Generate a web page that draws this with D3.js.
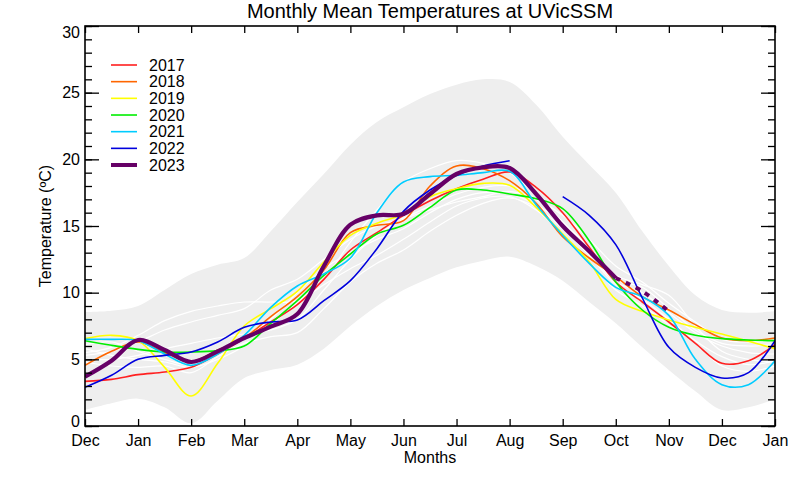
<!DOCTYPE html>
<html>
<head>
<meta charset="utf-8">
<script src="https://cdn.jsdelivr.net/npm/d3@7"></script>
<style>
  body { margin: 0; background: #fff; }
  svg { display: block; }
  text { font-family: "Liberation Sans", Arial, Helvetica, sans-serif; fill: #000; }
</style>
</head>
<body>
<svg id="chart" width="800" height="480"></svg>
<script>
// ---------------- DATA ----------------
const monthLabels = ["Dec","Jan","Feb","Mar","Apr","May","Jun","Jul","Aug","Sep","Oct","Nov","Dec","Jan"];
const yTickValues = [0, 5, 10, 15, 20, 25, 30];
// sample positions, in months from the first Dec
const tGrid = [0,0.5,1,1.5,2,2.5,3,3.5,4,4.5,5,5.5,6,6.5,7,7.5,8,8.5,9,9.5,10,10.5,11,11.5,12,12.5,13];

const bandUpper = [8.55,8.65,9.0,10.2,11.4,12.1,12.6,14.6,16.8,18.9,21.1,22.8,23.9,24.9,25.6,26.0,25.8,24.1,21.7,19.6,17.5,14.6,12.0,9.8,8.7,8.5,8.6];
const bandLower = [1.2,1.7,2.05,1.4,0.2,1.9,3.6,4.2,4.6,5.8,7.5,9.0,10.2,11.1,11.9,12.4,12.7,12.0,10.9,9.3,7.7,5.9,4.2,2.6,1.2,1.4,2.0];

// other years (white lines)
const otherYearA = [5.5,5.9,6.8,7.9,8.6,9.0,9.3,9.3,9.4,11.0,13.8,16.2,18.3,19.3,19.9,19.7,19.0,17.3,15.3,13.0,10.8,10.0,8.5,7.0,6.0,5.5,5.4];
const otherYearB = [5.3,5.6,6.3,7.2,7.8,8.3,8.8,10.2,11.0,12.5,14.0,15.0,15.6,16.5,17.4,17.9,18.0,17.0,15.3,13.2,11.3,10.6,9.8,7.5,5.6,5.0,4.8];
const otherYearC = [4.8,4.5,4.4,4.5,4.0,5.2,6.2,6.7,7.0,8.8,10.8,12.2,13.2,14.6,15.8,16.7,17.1,16.4,14.8,12.8,10.6,9.5,8.0,6.4,5.2,4.6,4.9];
const otherYearD = [5.8,5.3,5.0,4.8,4.4,5.0,6.0,7.6,9.2,10.6,11.8,12.8,14.0,15.3,16.5,17.1,17.2,16.2,14.4,12.3,10.2,9.0,7.6,6.2,4.5,4.1,4.5];
const otherYearE = [6.1,6.3,5.6,5.0,4.6,5.4,6.6,8.0,10.0,11.8,13.0,14.0,14.8,16.0,17.0,17.5,17.4,16.6,15.2,13.4,11.0,10.4,8.8,7.2,6.2,6.0,6.1];
const otherYearF = [5.0,5.0,5.3,5.8,6.2,6.6,6.9,7.2,8.0,10.2,12.5,14.3,15.5,16.2,16.8,17.2,17.6,17.0,15.8,14.0,12.0,10.8,9.2,7.8,6.5,6.3,6.4];

const y2017 = [3.35,3.5,3.85,4.05,4.4,5.4,6.55,7.8,9.1,11.0,13.2,14.5,15.8,16.9,17.8,18.5,19.05,17.9,16.0,13.4,10.8,9.3,7.8,6.2,4.7,4.9,6.1];
const y2018 = [4.55,5.6,6.3,5.5,4.85,5.7,6.6,8.2,9.7,11.7,14.5,15.05,15.4,18.0,19.5,19.3,18.4,16.7,14.2,12.6,11.2,9.7,8.7,7.6,6.6,6.4,6.6];
const y2019 = [6.55,6.8,6.4,4.4,2.25,4.7,7.5,8.8,10.1,12.3,14.3,15.2,15.9,17.2,17.8,18.2,18.05,16.4,14.4,12.3,9.5,8.6,7.95,7.4,6.9,6.35,5.8];
const y2020 = [6.4,6.05,5.75,5.55,5.55,5.65,6.0,7.7,9.4,11.3,12.9,14.4,15.05,16.4,17.7,17.7,17.4,17.05,16.3,13.9,10.8,8.7,7.4,6.8,6.55,6.45,6.4];
const y2021 = [6.5,6.5,6.4,5.4,4.55,5.4,6.8,8.9,10.5,11.4,12.6,16.0,18.3,18.7,18.8,19.0,19.1,16.6,14.3,12.2,10.4,9.7,8.3,5.0,3.1,3.1,4.9];
const y2022 = [2.9,3.8,5.0,5.3,5.55,6.3,7.4,7.8,7.95,9.4,10.9,13.3,16.1,17.7,18.8,19.5,19.9,null,17.2,15.8,13.6,9.6,5.9,4.4,3.6,4.0,6.4];
const y2023 = [3.7,4.9,6.45,5.7,4.8,5.6,6.6,7.45,8.4,12.0,15.1,15.8,15.9,17.4,18.9,19.4,19.35,17.4,15.0,13.1,11.1,null,null,null,null,null,null];
const y2023proj = [null,null,null,null,null,null,null,null,null,null,null,null,null,null,null,null,null,null,null,null,11.1,10.1,8.6,null,null,null,null];

const legendYears = ["2017","2018","2019","2020","2021","2022","2023"];
const legendColors = ["#ff2020","#ff6600","#ffff00","#00ee00","#00ccff","#0000dd","#660066"];

// ---------------- CHART ----------------
const svg = d3.select("#chart");
const L = 85, R = 775, T = 26, B = 426;
const x = d3.scaleLinear().domain([0, 13]).range([L, R]);
const y = d3.scaleLinear().domain([0, 30]).range([B, T]);

svg.append("defs").append("clipPath").attr("id", "clip")
  .append("rect").attr("x", L).attr("y", T).attr("width", R - L).attr("height", B - T);

const plot = svg.append("g").attr("clip-path", "url(#clip)");
const curve = d3.curveCatmullRom.alpha(0.5);

// envelope band
const bandData = tGrid.map((t, i) => ({ t, lo: bandLower[i], hi: bandUpper[i] }));
plot.append("path")
  .datum(bandData)
  .attr("fill", "#eeeeee")
  .attr("d", d3.area().x(d => x(d.t)).y0(d => y(d.lo)).y1(d => y(d.hi)).curve(curve));

const line = d3.line()
  .defined(d => d.v !== null)
  .x(d => x(d.t)).y(d => y(d.v))
  .curve(curve);
const toPts = arr => tGrid.map((t, i) => ({ t, v: arr[i] }));

// white lines for other years
[otherYearA, otherYearB, otherYearC, otherYearD, otherYearE, otherYearF].forEach(arr => {
  plot.append("path").datum(toPts(arr))
    .attr("fill", "none").attr("stroke", "#ffffff").attr("stroke-width", 1.2)
    .attr("d", line);
});

// coloured years
const series = [y2017, y2018, y2019, y2020, y2021, y2022];
series.forEach((arr, i) => {
  plot.append("path").datum(toPts(arr))
    .attr("fill", "none").attr("stroke", legendColors[i]).attr("stroke-width", 1.6)
    .attr("d", line);
});
plot.append("path").datum(toPts(y2023proj))
  .attr("fill", "none").attr("stroke", legendColors[6]).attr("stroke-width", 4)
  .attr("stroke-dasharray", "5,6")
  .attr("d", line);
plot.append("path").datum(toPts(y2023))
  .attr("fill", "none").attr("stroke", legendColors[6]).attr("stroke-width", 4.2)
  .attr("stroke-linejoin", "round")
  .attr("d", line);

// ---------------- AXES ----------------
const monthIdx = d3.range(monthLabels.length);
const minorY = d3.range(0, 31);

const gB = svg.append("g").attr("transform", `translate(0,${B})`)
  .call(d3.axisBottom(x).tickValues(monthIdx).tickFormat(i => monthLabels[i])
    .tickSizeInner(-7).tickSizeOuter(0).tickPadding(9));
const gT = svg.append("g").attr("transform", `translate(0,${T})`)
  .call(d3.axisTop(x).tickValues(monthIdx).tickFormat("").tickSizeInner(-7).tickSizeOuter(0));
const gLm = svg.append("g").attr("transform", `translate(${L},0)`)
  .call(d3.axisLeft(y).tickValues(minorY).tickFormat("").tickSizeInner(-7).tickSizeOuter(0));
const gL = svg.append("g").attr("transform", `translate(${L},0)`)
  .call(d3.axisLeft(y).tickValues(yTickValues).tickSizeInner(-14).tickSizeOuter(0).tickPadding(5));
const gRm = svg.append("g").attr("transform", `translate(${R},0)`)
  .call(d3.axisRight(y).tickValues(minorY).tickFormat("").tickSizeInner(-7).tickSizeOuter(0));
const gR = svg.append("g").attr("transform", `translate(${R},0)`)
  .call(d3.axisRight(y).tickValues(yTickValues).tickFormat("").tickSizeInner(-14).tickSizeOuter(0));

[gB, gT, gLm, gL, gRm, gR].forEach(g => {
  g.select(".domain").remove();
  g.selectAll(".tick line").attr("stroke", "#000").attr("stroke-width", 1.3);
  g.selectAll("text").attr("font-size", 16).attr("font-family", "'Liberation Sans', Arial, sans-serif").attr("fill", "#000");
});
// keep end labels inside the frame like the original
gL.selectAll(".tick text").attr("dy", d => d === 30 ? "0.72em" : d === 0 ? "0.05em" : "0.32em");

// frame
svg.append("rect").attr("x", L).attr("y", T).attr("width", R - L).attr("height", B - T)
  .attr("fill", "none").attr("stroke", "#000").attr("stroke-width", 1.6);

// ---------------- TEXT ----------------
svg.append("text").attr("x", 430).attr("y", 18).attr("text-anchor", "middle")
  .attr("font-size", 20).text("Monthly Mean Temperatures at UVicSSM");
svg.append("text").attr("x", 430).attr("y", 463).attr("text-anchor", "middle")
  .attr("font-size", 16).text("Months");
svg.append("text").attr("transform", `translate(51,${(T + B) / 2}) rotate(-90)`)
  .attr("text-anchor", "middle").attr("font-size", 16).text("Temperature (ºC)");

// ---------------- LEGEND ----------------
const lg = svg.append("g");
legendYears.forEach((yr, i) => {
  const yy = 65 + i * 16.67;
  lg.append("line").attr("x1", 111).attr("x2", 137).attr("y1", yy).attr("y2", yy)
    .attr("stroke", legendColors[i]).attr("stroke-width", i === 6 ? 4 : 1.6);
  lg.append("text").attr("x", 149).attr("y", yy).attr("dy", "0.36em")
    .attr("font-size", 16).text(yr);
});
</script>
</body>
</html>
